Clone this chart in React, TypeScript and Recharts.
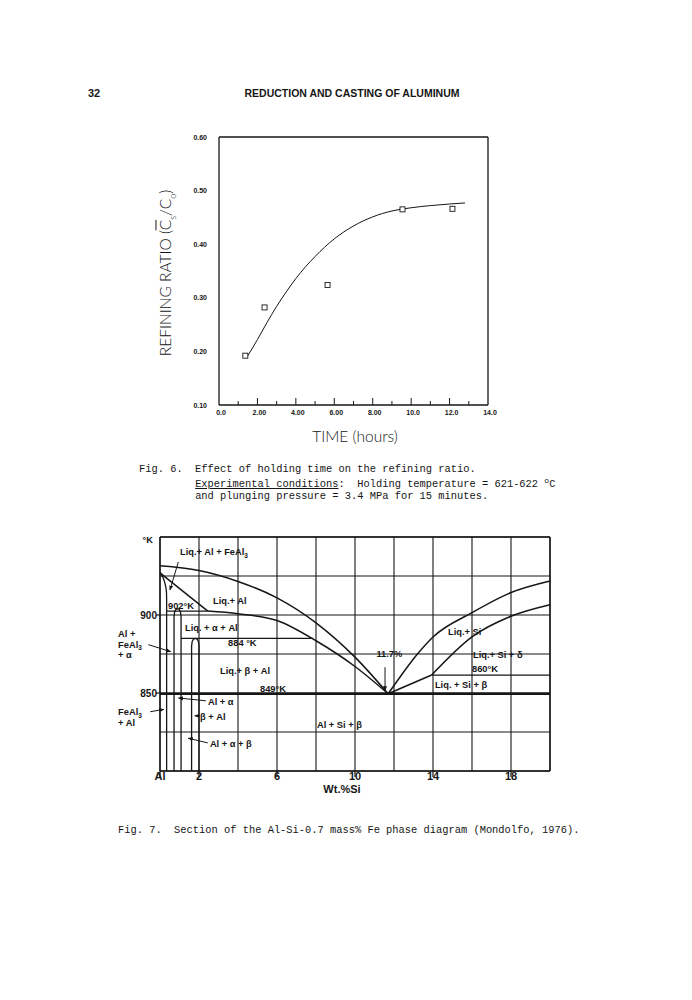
import React from "react";
import {
  ComposedChart,
  Line,
  Scatter,
  XAxis,
  YAxis,
  CartesianGrid,
  ReferenceLine,
  ReferenceDot,
} from "recharts";

// ---------- Fig. 6: refining ratio vs holding time ----------
const holdTimes = [1.37, 2.37, 5.65, 9.55, 12.15];
const refiningRatios = [0.192, 0.282, 0.324, 0.465, 0.466];
const fitTimes = [1.5, 2, 2.5, 3, 3.5, 4, 5, 6, 7, 8, 9, 10, 11, 12, 12.8];
const fitRatios = [0.192, 0.222, 0.254, 0.284, 0.311, 0.336, 0.377, 0.41, 0.434, 0.451, 0.462, 0.468, 0.472, 0.475, 0.477];
const timeTicks = [0, 1, 2, 3, 4, 5, 6, 7, 8, 9, 10, 11, 12, 13, 14];
const timeTopTicks = [2, 4, 6, 8, 10, 12];
const timeLabels: Record<number, string> = { 0: "0.0", 2: "2.00", 4: "4.00", 6: "6.00", 8: "8.00", 10: "10.0", 12: "12.0", 14: "14.0" };
const ratioTicks = [0.1, 0.2, 0.3, 0.4, 0.5, 0.6];
const ratioRightTicks = [0.2, 0.3, 0.4, 0.5];

// ---------- Fig. 7: Al-Si-0.7Fe section ----------
const siTicks = [0, 2, 4, 6, 8, 10, 12, 14, 16, 18, 20];
const siLabels: Record<number, string> = { 0: "Al", 2: "2", 6: "6", 10: "10", 14: "14", 18: "18" };
const kTicks = [800, 825, 850, 875, 900, 925, 950];
const kLabels: Record<number, string> = { 900: "900", 850: "850" };

const alLiquidusSi = [0, 2, 4, 6, 8, 10, 11.7];
const alLiquidusK = [931.5, 928.5, 921.5, 911, 895, 873, 849.5];
const feAlBoundarySi = [0, 2.45];
const feAlBoundaryK = [927, 902.5];
const alphaLiquidusSi = [2.45, 4, 6, 8, 10, 11.7];
const alphaLiquidusK = [902.5, 900.8, 896.5, 883.5, 867, 849.5];
const alSolidusSi = [0, 0.15, 0.27, 0.33, 0.34, 0.34];
const alSolidusK = [927.5, 924, 919.5, 915, 910, 800];
const line902Si = [0.34, 2.45];
const line902K = [902.5, 902.5];
const alphaDomeSi = [0.72, 0.72, 0.75, 0.82, 0.9, 0.98, 1.05, 1.08, 1.08];
const alphaDomeK = [800, 899, 902, 903.6, 904, 903.6, 902, 899, 800];
const betaDomeSi = [1.62, 1.62, 1.65, 1.72, 1.81, 1.9, 1.97, 2.0, 2.0];
const betaDomeK = [800, 880, 883, 884.6, 885, 884.6, 883, 880, 800];
const line884Si = [1.08, 7.86];
const line884K = [885, 885];
const eutecticSi = [0, 20];
const eutecticK = [849.5, 849.5];
const siLiquidusSi = [11.7, 12, 13.15, 14, 16, 18, 20];
const siLiquidusK = [849.5, 854.8, 874.2, 885.9, 901.5, 914.4, 921.8];
const deltaBoundarySi = [11.7, 13.93];
const deltaBoundaryK = [849.5, 861.5];
const deltaLiquidusSi = [13.93, 16, 18, 20];
const deltaLiquidusK = [861.5, 886, 899.2, 906.6];
const line860Si = [13.93, 20];
const line860K = [861.5, 861.5];

// region labels: text, wt% Si (left edge), temperature
const phaseLabels = [
  { t: "Liq.+ Al + FeAl_3", x: 1.03, y: 940.4 },
  { t: "Liq.+ Al", x: 2.72, y: 909 },
  { t: "902°K", x: 0.41, y: 905.8 },
  { t: "Liq. + α + Al", x: 1.28, y: 891.7 },
  { t: "884 °K", x: 3.49, y: 882.5 },
  { t: "Liq.+ β + Al", x: 3.08, y: 864.3 },
  { t: "849°K", x: 5.13, y: 852.6 },
  { t: "11.7%", x: 11.1, y: 875 },
  { t: "Liq.+ Si", x: 14.77, y: 889 },
  { t: "Liq.+ Si + δ", x: 16.05, y: 874.4 },
  { t: "860°K", x: 16.0, y: 865.4 },
  { t: "Liq. + Si  + β", x: 14.1, y: 855.3 },
  { t: "Al + Si + β", x: 8.05, y: 829.5 },
  { t: "Al + α", x: 2.46, y: 844.4 },
  { t: "β + Al", x: 2.05, y: 835 },
  { t: "Al + α + β", x: 2.56, y: 817.7 },
  { t: "Al +", x: -2.15, y: 887.8 },
  { t: "FeAl_3", x: -2.15, y: 881.2 },
  { t: "+ α", x: -2.15, y: 874.4 },
  { t: "FeAl_3", x: -2.15, y: 838 },
  { t: "+ Al", x: -2.15, y: 831.2 },
  { t: "°K", x: -0.9, y: 948.5 },
];

const phaseArrows = [
  { x1: 0.94, y1: 934, x2: 0.51, y2: 916 },
  { x1: 11.54, y1: 866.5, x2: 11.54, y2: 851.5 },
  { x1: 2.35, y1: 845, x2: 0.95, y2: 846.8 },
  { x1: 2.02, y1: 835.3, x2: 1.78, y2: 835.4 },
  { x1: 2.45, y1: 818, x2: 1.45, y2: 821 },
  { x1: -0.6, y1: 881, x2: 0.55, y2: 876.5 },
  { x1: -0.5, y1: 838, x2: 0.2, y2: 839.5 },
];

const pts = (xs: number[], ys: number[]) => xs.map((x, i) => ({ x, y: ys[i] }));

const INK = "#161616";
const SANS = "'Liberation Sans', Arial, Helvetica, sans-serif";
const MONO = "'Liberation Mono', 'Courier New', monospace";

function rich(s: string) {
  // "_3" -> subscript 3
  const parts = s.split(/_(.)/);
  return parts.map((p, i) =>
    i % 2 === 1 ? (
      <tspan key={i} dy={2.5} fontSize="0.7em">{p}</tspan>
    ) : (
      <tspan key={i} dy={i > 0 ? -2.5 : 0}>{p}</tspan>
    )
  );
}

const TimeTick = (p: any) => {
  const v = p.payload.value;
  const major = v % 2 === 0;
  return (
    <g>
      {v > 0 && v < 14 && (
        <line x1={p.x} x2={p.x} y1={p.y} y2={p.y - (major ? 7 : 4)} stroke={INK} strokeWidth={1} />
      )}
      {major && (
        <text x={p.x + 2} y={p.y + 10} textAnchor="middle" fontSize={7} fontWeight="bold" fontFamily={SANS} fill={INK}>
          {timeLabels[v]}
        </text>
      )}
    </g>
  );
};

const TopTick = (p: any) => (
  <line x1={p.x} x2={p.x} y1={p.y} y2={p.y + 6} stroke={INK} strokeWidth={1} />
);

const RatioTick = (p: any) => (
  <text x={p.x - 12} y={p.y + 2.5} textAnchor="end" fontSize={7} fontWeight="bold" fontFamily={SANS} fill={INK}>
    {p.payload.value.toFixed(2)}
  </text>
);

const RightTick = (p: any) => (
  <line x1={p.x} x2={p.x - 6} y1={p.y} y2={p.y} stroke={INK} strokeWidth={1} />
);

const SiTick = (p: any) => {
  const v = p.payload.value;
  const lab = siLabels[v];
  if (lab === undefined) return <g />;
  return (
    <g>
      <line x1={p.x} x2={p.x} y1={p.y} y2={p.y + 6} stroke={INK} strokeWidth={1.2} />
      <text x={p.x} y={p.y + 9} textAnchor="middle" fontSize={11} fontWeight="bold" fontFamily={SANS} fill={INK}>
        {lab}
      </text>
    </g>
  );
};

const KTick = (p: any) => {
  const v = p.payload.value;
  const lab = kLabels[v];
  if (lab === undefined) return <g />;
  return (
    <g>
      <line x1={p.x - 4} x2={p.x} y1={p.y} y2={p.y} stroke={INK} strokeWidth={1.2} />
      <text x={p.x - 3} y={p.y + 3.5} textAnchor="end" fontSize={10} fontWeight="bold" fontFamily={SANS} fill={INK}>
        {lab}
      </text>
    </g>
  );
};

const ArrowShape = (p: any) => (
  <line x1={p.x1} y1={p.y1} x2={p.x2} y2={p.y2} stroke={INK} strokeWidth={1} markerEnd="url(#ah)" />
);

function RefiningChart() {
  return (
    <ComposedChart width={360} height={310} margin={{ top: 16, right: 21, bottom: 0, left: 29 }}>
      <XAxis
        dataKey="x"
        type="number"
        domain={[0, 14]}
        ticks={timeTicks}
        interval={0}
        tickSize={0}
        tickMargin={0}
        tickLine={false}
        height={25}
        axisLine={{ stroke: INK, strokeWidth: 1.3 }}
        tick={(p: any) => <TimeTick {...p} />}
      />
      <XAxis
        xAxisId="top"
        orientation="top"
        dataKey="x"
        type="number"
        domain={[0, 14]}
        ticks={timeTopTicks}
        interval={0}
        tickSize={0}
        tickMargin={0}
        tickLine={false}
        height={1}
        axisLine={{ stroke: INK, strokeWidth: 1.3 }}
        tick={(p: any) => <TopTick {...p} />}
      />
      <YAxis
        type="number"
        domain={[0.1, 0.6]}
        ticks={ratioTicks}
        interval={0}
        tickSize={0}
        tickMargin={0}
        tickLine={false}
        width={40}
        axisLine={{ stroke: INK, strokeWidth: 1.3 }}
        tick={(p: any) => <RatioTick {...p} />}
      />
      <YAxis
        yAxisId="r"
        orientation="right"
        type="number"
        domain={[0.1, 0.6]}
        ticks={ratioRightTicks}
        interval={0}
        tickSize={0}
        tickMargin={0}
        tickLine={false}
        width={1}
        axisLine={{ stroke: INK, strokeWidth: 1.3 }}
        tick={(p: any) => <RightTick {...p} />}
      />
      <Line
        data={pts(fitTimes, fitRatios)}
        dataKey="y"
        type="monotone"
        dot={false}
        stroke={INK}
        strokeWidth={1}
        isAnimationActive={false}
      />
      <Scatter
        data={pts(holdTimes, refiningRatios)}
        dataKey="y"
        isAnimationActive={false}
        shape={(p: any) => (
          <rect x={p.cx - 2.5} y={p.cy - 2.5} width={5} height={5} fill="#fff" stroke={INK} strokeWidth={0.9} />
        )}
      />
    </ComposedChart>
  );
}

const phaseLine = (xs: number[], ys: number[], key: string, curved: boolean, w = 1.5) => (
  <Line
    key={key}
    data={pts(xs, ys)}
    dataKey="y"
    type={curved ? "monotone" : "linear"}
    dot={false}
    stroke={INK}
    strokeWidth={w}
    isAnimationActive={false}
  />
);

function PhaseChart() {
  return (
    <ComposedChart width={480} height={280} margin={{ top: 17, right: 30, bottom: 0, left: 30 }}>
      <CartesianGrid stroke={INK} strokeWidth={1.1} />
      <XAxis
        dataKey="x"
        type="number"
        domain={[0, 20]}
        ticks={siTicks}
        interval={0}
        tickSize={0}
        tickMargin={0}
        tickLine={false}
        height={29}
        axisLine={{ stroke: INK, strokeWidth: 1.4 }}
        tick={(p: any) => <SiTick {...p} />}
      />
      <YAxis
        type="number"
        domain={[800, 950]}
        ticks={kTicks}
        interval={0}
        tickSize={0}
        tickMargin={0}
        tickLine={false}
        width={30}
        axisLine={{ stroke: INK, strokeWidth: 1.4 }}
        tick={(p: any) => <KTick {...p} />}
      />
      <ReferenceLine y={950} stroke={INK} strokeWidth={1.4} />
      <ReferenceLine x={20} stroke={INK} strokeWidth={1.4} />
      {phaseLine(alLiquidusSi, alLiquidusK, "alLiq", true)}
      {phaseLine(feAlBoundarySi, feAlBoundaryK, "feAl", false)}
      {phaseLine(alphaLiquidusSi, alphaLiquidusK, "alphaLiq", true)}
      {phaseLine(alSolidusSi, alSolidusK, "alSol", true, 1.3)}
      {phaseLine(line902Si, line902K, "l902", false, 1.3)}
      {phaseLine(alphaDomeSi, alphaDomeK, "aDome", false, 1.3)}
      {phaseLine(betaDomeSi, betaDomeK, "bDome", false, 1.3)}
      {phaseLine(line884Si, line884K, "l884", false, 1.3)}
      {phaseLine(eutecticSi, eutecticK, "eut", false, 2.4)}
      {phaseLine(siLiquidusSi, siLiquidusK, "siLiq", true)}
      {phaseLine(deltaBoundarySi, deltaBoundaryK, "dB", false)}
      {phaseLine(deltaLiquidusSi, deltaLiquidusK, "dLiq", true)}
      {phaseLine(line860Si, line860K, "l860", false, 1.3)}
      {phaseArrows.map((a, i) => (
        <ReferenceLine
          key={"a" + i}
          segment={[{ x: a.x1, y: a.y1 }, { x: a.x2, y: a.y2 }]}
          ifOverflow="visible"
          stroke={INK}
          shape={(p: any) => <ArrowShape {...p} />}
        />
      ))}
      {phaseLabels.map((l, i) => (
        <ReferenceDot
          key={"l" + i}
          x={l.x}
          y={l.y}
          r={0}
          ifOverflow="visible"
          shape={(p: any) => (
            <text x={p.cx} y={p.cy + 3.3} fontSize={9.3} fontWeight="bold" fontFamily={SANS} fill={INK}>
              {rich(l.t)}
            </text>
          )}
        />
      ))}
    </ComposedChart>
  );
}

const abs = (left: number, top: number): React.CSSProperties => ({ position: "absolute", left, top });

export default function App() {
  return (
    <div style={{ position: "absolute", left: 0, top: 0, width: 692, height: 1000, background: "#fff", color: INK, overflow: "hidden" }}>
      <svg width={0} height={0} style={{ position: "absolute" }}>
        <defs>
          <marker id="ah" viewBox="0 0 10 10" refX="9" refY="5" markerWidth="5" markerHeight="5" orient="auto-start-reverse">
            <path d="M0,1 L10,5 L0,9 z" fill={INK} />
          </marker>
        </defs>
      </svg>

      {/* running head */}
      <div style={{ ...abs(88, 86), fontFamily: SANS, fontWeight: "bold", fontSize: 11, lineHeight: "14px" }}>32</div>
      <div style={{ ...abs(352, 86), transform: "translateX(-50%)", whiteSpace: "nowrap", fontFamily: SANS, fontWeight: "bold", fontSize: 10.5, lineHeight: "14px" }}>
        REDUCTION AND CASTING OF ALUMINUM
      </div>

      {/* Fig. 6 */}
      <div style={abs(150, 120)}>
        <RefiningChart />
      </div>
      <div
        style={{
          ...abs(169, 273),
          transform: "translate(-50%, -50%) rotate(-90deg)",
          whiteSpace: "nowrap",
          fontFamily: "Lato, " + SANS,
          fontWeight: 300,
          fontSize: 15.5,
          lineHeight: "18px",
        }}
      >
        REFINING RATIO (<span style={{ textDecoration: "overline" }}>C</span>
        <sub style={{ fontSize: 9 }}>s</sub>/C<sub style={{ fontSize: 9 }}>o</sub>)
      </div>
      <div
        style={{
          ...abs(355, 436),
          transform: "translate(-50%, -50%)",
          whiteSpace: "nowrap",
          fontFamily: "Lato, " + SANS,
          fontWeight: 300,
          fontSize: 15.5,
          lineHeight: "18px",
        }}
      >
        TIME (hours)
      </div>
      <div style={{ ...abs(139, 463), fontFamily: MONO, fontSize: 10.4, lineHeight: "12px", whiteSpace: "pre" }}>
        <div>Fig. 6.  Effect of holding time on the refining ratio.</div>
        <div>
          {"         "}
          <span style={{ textDecoration: "underline" }}>Experimental conditions</span>:  Holding temperature = 621-622{" "}
          <sup style={{ fontSize: 8, verticalAlign: "4px" }}>o</sup>C
        </div>
        <div>{"         "}and plunging pressure = 3.4 MPa for 15 minutes.</div>
      </div>

      {/* Fig. 7 */}
      <div style={abs(100, 520)}>
        <PhaseChart />
      </div>
      <div style={{ ...abs(342, 789), transform: "translate(-50%, -50%)", whiteSpace: "nowrap", fontFamily: SANS, fontWeight: "bold", fontSize: 11 }}>
        Wt.%Si
      </div>
      <div style={{ ...abs(118, 824), fontFamily: MONO, fontSize: 10.4, lineHeight: "12px", whiteSpace: "pre" }}>
        Fig. 7.  Section of the Al-Si-0.7 mass% Fe phase diagram (Mondolfo, 1976).
      </div>
    </div>
  );
}
